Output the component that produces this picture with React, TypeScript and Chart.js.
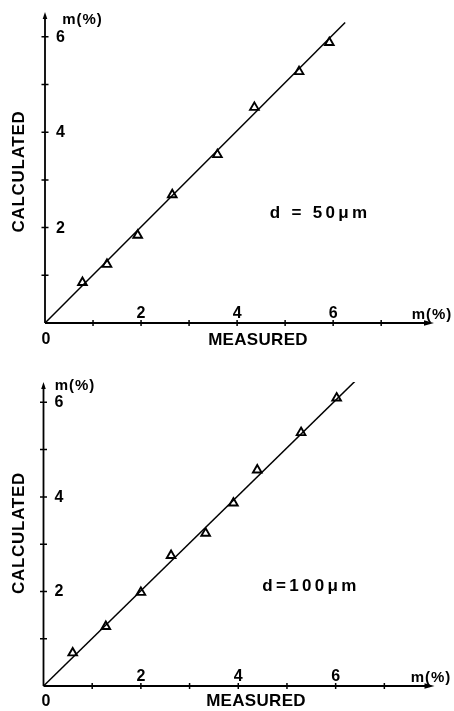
import React, { useEffect, useRef } from "react";
import { Chart, registerables } from "chart.js";

Chart.register(...registerables);

// ---- data ----
const measured50 = [0.78, 1.29, 1.93, 2.65, 3.59, 4.36, 5.29, 5.92];
const calculated50 = [0.85, 1.23, 1.84, 2.69, 3.53, 4.52, 5.27, 5.88];
const fitX50 = [0, 6.25];
const fitY50 = [0, 6.3];

const measured100 = [0.6, 1.28, 2.0, 2.62, 3.33, 3.9, 4.39, 5.29, 6.02];
const calculated100 = [0.7, 1.26, 1.98, 2.76, 3.23, 3.87, 4.57, 5.36, 6.09];
const fitX100 = [0, 6.6];
const fitY100 = [0, 6.65];

const xTickLabels = [2, 4, 6];
const yTickLabels = [2, 4, 6];
const xTickMarks = [1, 2, 3, 4, 5, 6, 7];
const yTickMarks = [1, 2, 3, 4, 5, 6];

const xTitle = "MEASURED";
const yTitle = "CALCULATED";
const unitLabel = "m(%)";
const panelLabels = ["d = 50\u03BCm", "d=100\u03BCm"];

type Panel = {
  height: number;
  padding: { left: number; right: number; top: number; bottom: number };
  xMax: number;
  yMax: number;
  mx: number[];
  my: number[];
  fx: number[];
  fy: number[];
  label: string;
  pos: {
    unitTop: [number, number];
    unitRight: [number, number];
    zero: [number, number];
    xTitle: [number, number];
    yTitle: [number, number];
    label: [number, number];
  };
};

const panels: Panel[] = [
  {
    height: 356,
    padding: { left: 45, right: 20, top: 12, bottom: 33 },
    xMax: 8.1,
    yMax: 6.52,
    mx: measured50,
    my: calculated50,
    fx: fitX50,
    fy: fitY50,
    label: panelLabels[0],
    pos: {
      unitTop: [82.5, 19.5],
      unitRight: [432, 315],
      zero: [46, 340],
      xTitle: [258, 340.5],
      yTitle: [19.5, 171.5],
      label: [320, 213],
    },
  },
  {
    height: 355,
    padding: { left: 43.5, right: 19.5, top: 26, bottom: 25 },
    xMax: 8.03,
    yMax: 6.43,
    mx: measured100,
    my: calculated100,
    fx: fitX100,
    fy: fitY100,
    label: panelLabels[1],
    pos: {
      unitTop: [75, 30],
      unitRight: [431, 321.5],
      zero: [46, 345.5],
      xTitle: [256, 345.5],
      yTitle: [19, 177],
      label: [311, 230],
    },
  },
];

const FONT = '"Liberation Sans", Arial, sans-serif';

function makeAxesPlugin(p: Panel) {
  return {
    id: "handAxes",
    afterDraw(chart: any) {
      const ctx: CanvasRenderingContext2D = chart.ctx;
      const xs = chart.scales.x;
      const ys = chart.scales.y;
      const x0 = xs.getPixelForValue(0);
      const y0 = ys.getPixelForValue(0);
      const xEnd = xs.getPixelForValue(p.xMax);
      const yEnd = ys.getPixelForValue(p.yMax);
      ctx.save();
      ctx.strokeStyle = "#000";
      ctx.fillStyle = "#000";
      ctx.lineWidth = 1.8;
      ctx.lineCap = "butt";
      // axis lines
      ctx.beginPath();
      ctx.moveTo(x0, y0);
      ctx.lineTo(xEnd - 6, y0);
      ctx.moveTo(x0, y0);
      ctx.lineTo(x0, yEnd + 5);
      ctx.stroke();
      // arrowheads
      ctx.beginPath();
      ctx.moveTo(xEnd, y0);
      ctx.lineTo(xEnd - 10, y0 - 2.8);
      ctx.lineTo(xEnd - 10, y0 + 2.8);
      ctx.closePath();
      ctx.fill();
      ctx.beginPath();
      ctx.moveTo(x0, yEnd);
      ctx.lineTo(x0 - 2.3, yEnd + 7);
      ctx.lineTo(x0 + 2.3, yEnd + 7);
      ctx.closePath();
      ctx.fill();
      // tick crosses
      ctx.lineWidth = 1.5;
      ctx.beginPath();
      xTickMarks.forEach((v) => {
        const px = xs.getPixelForValue(v);
        ctx.moveTo(px, y0 - 3);
        ctx.lineTo(px, y0 + 3);
      });
      yTickMarks.forEach((v) => {
        const py = ys.getPixelForValue(v);
        ctx.moveTo(x0 - 3.5, py);
        ctx.lineTo(x0 + 3.5, py);
      });
      ctx.stroke();
      // tick labels
      ctx.font = `bold 16px ${FONT}`;
      ctx.textBaseline = "middle";
      ctx.textAlign = "center";
      xTickLabels.forEach((v) => {
        ctx.fillText(String(v), xs.getPixelForValue(v), y0 - 9.5);
      });
      ctx.textAlign = "left";
      yTickLabels.forEach((v) => {
        ctx.fillText(String(v), x0 + 11, ys.getPixelForValue(v) + 0.5);
      });
      ctx.textAlign = "center";
      ctx.fillText("0", p.pos.zero[0], p.pos.zero[1]);
      // unit labels
      ctx.font = `bold 15px ${FONT}`;
      (ctx as any).letterSpacing = "1px";
      ctx.fillText(unitLabel, p.pos.unitTop[0], p.pos.unitTop[1]);
      ctx.fillText(unitLabel, p.pos.unitRight[0], p.pos.unitRight[1]);
      // axis titles
      ctx.font = `bold 17px ${FONT}`;
      (ctx as any).letterSpacing = "0.3px";
      ctx.fillText(xTitle, p.pos.xTitle[0], p.pos.xTitle[1]);
      ctx.save();
      ctx.translate(p.pos.yTitle[0], p.pos.yTitle[1]);
      ctx.rotate(-Math.PI / 2);
      (ctx as any).letterSpacing = "0.7px";
      ctx.fillText(yTitle, 0, 0);
      ctx.restore();
      // panel label
      ctx.font = `bold 17px ${FONT}`;
      (ctx as any).letterSpacing = "3.3px";
      ctx.fillText(p.label, p.pos.label[0], p.pos.label[1]);
      ctx.restore();
    },
  };
}

function PanelChart({ p }: { p: Panel }) {
  const ref = useRef<HTMLCanvasElement | null>(null);
  useEffect(() => {
    if (!ref.current) return;
    const chart = new Chart(ref.current, {
      type: "scatter",
      data: {
        datasets: [
          {
            label: "fit",
            data: p.fx.map((x, i) => ({ x, y: p.fy[i] })),
            showLine: true,
            borderColor: "#000",
            borderWidth: 1.5,
            pointRadius: 0,
            fill: false,
          },
          {
            label: "points",
            data: p.mx.map((x, i) => ({ x, y: p.my[i] })),
            showLine: false,
            pointStyle: "triangle",
            pointRadius: 5,
            pointBorderWidth: 1.9,
            pointBorderColor: "#000",
            pointBackgroundColor: "rgba(0,0,0,0)",
          },
        ],
      },
      options: {
        responsive: false,
        animation: false,
        devicePixelRatio: 1,
        layout: { padding: p.padding },
        plugins: {
          legend: { display: false },
          tooltip: { enabled: false },
        },
        scales: {
          x: { type: "linear", min: 0, max: p.xMax, display: false },
          y: { type: "linear", min: 0, max: p.yMax, display: false },
        },
      },
      plugins: [makeAxesPlugin(p)],
    } as any);
    return () => chart.destroy();
  }, [p]);
  return (
    <canvas
      ref={ref}
      width={454}
      height={p.height}
      style={{ display: "block", width: 454, height: p.height }}
    />
  );
}

export default function App() {
  return (
    <div
      style={{
        position: "absolute",
        left: 0,
        top: 0,
        width: 454,
        height: 711,
        background: "#fff",
      }}
    >
      {panels.map((p, i) => (
        <PanelChart key={i} p={p} />
      ))}
    </div>
  );
}
